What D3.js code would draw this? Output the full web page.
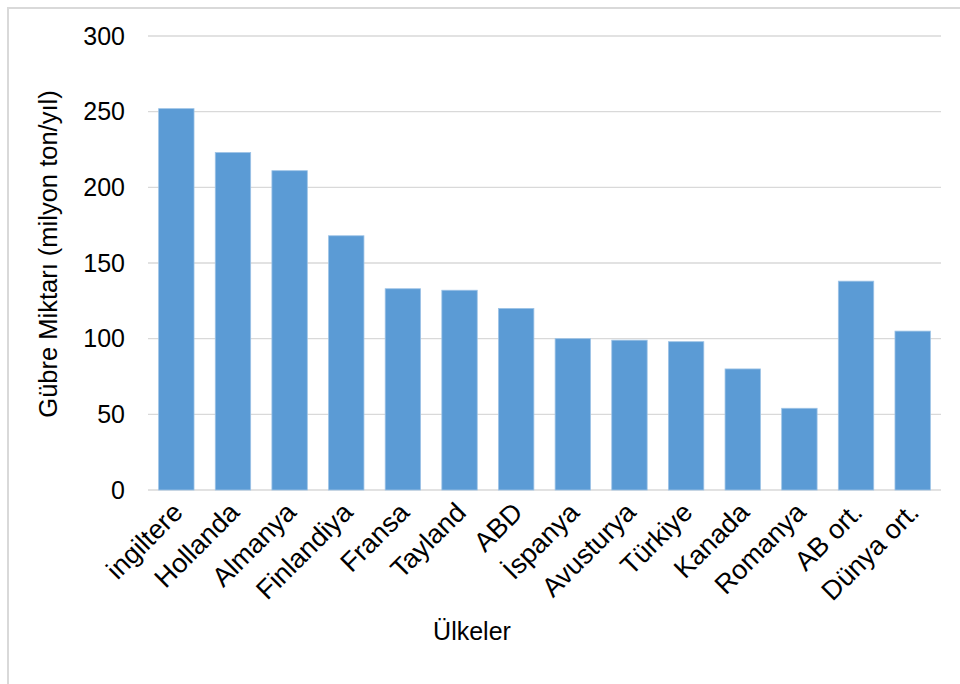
<!DOCTYPE html>
<html>
<head>
<meta charset="utf-8">
<script src="https://cdn.jsdelivr.net/npm/d3@7"></script>
<style>
  body { margin: 0; background: #fff; }
  text { font-family: "Liberation Sans", Arial, sans-serif; fill: #000; }
</style>
</head>
<body>
<script>
// data
var countries = ["ingiltere", "Hollanda", "Almanya", "Finlandiya", "Fransa", "Tayland", "ABD",
                 "İspanya", "Avusturya", "Türkiye", "Kanada", "Romanya", "AB ort.", "Dünya ort."];
var amounts = [252, 223, 211, 168, 133, 132, 120, 100, 99, 98, 80, 54, 138, 105];
var yTicks = [0, 50, 100, 150, 200, 250, 300];

var w = 960, h = 684;
var svg = d3.select("body").append("svg")
    .attr("width", w)
    .attr("height", h);

// outer chart frame (only top/left edges are visible)
svg.append("rect")
    .attr("x", 8).attr("y", 8)
    .attr("width", 980).attr("height", 700)
    .style("fill", "#fff")
    .style("stroke", "#d9d9d9")
    .style("stroke-width", 2);

var plotLeft = 148, plotRight = 941, plotTop = 36, plotBottom = 490;

var x = d3.scaleBand()
    .domain(countries)
    .range([plotLeft, plotRight])
    .paddingInner(0.375)
    .paddingOuter(0.1875);

var y = d3.scaleLinear()
    .domain([0, 300])
    .range([plotBottom, plotTop]);

// gridlines
svg.append("g").attr("class", "grid")
    .selectAll("line")
    .data(yTicks)
    .enter()
    .append("line")
    .attr("x1", plotLeft).attr("x2", plotRight)
    .attr("y1", function(d){ return y(d); })
    .attr("y2", function(d){ return y(d); })
    .style("stroke", "#d9d9d9")
    .style("stroke-width", 1.3);

// y axis labels
var yAxis = d3.axisLeft(y).tickValues(yTicks).tickSize(0).tickPadding(23);
svg.append("g")
    .attr("class", "axis")
    .attr("transform", "translate(" + plotLeft + ",0)")
    .call(yAxis)
    .call(function(g){ g.select(".domain").remove(); })
    .selectAll("text")
    .style("font-size", "25px")
    .style("font-family", "Liberation Sans, Arial, sans-serif")
    .attr("fill", "#000");

// bars
svg.selectAll(".bar")
    .data(amounts)
    .enter()
    .append("rect")
    .attr("class", "bar")
    .attr("x", function(d, i){ return x(countries[i]); })
    .attr("width", x.bandwidth())
    .attr("y", function(d){ return y(d); })
    .attr("height", function(d){ return y(0) - y(d); })
    .style("fill", "#5b9bd5")
    .style("stroke", "#9dc3e6")
    .style("stroke-width", 0.8);

// x labels, rotated
svg.selectAll(".xlabel")
    .data(countries)
    .enter()
    .append("text")
    .attr("class", "xlabel")
    .attr("text-anchor", "end")
    .attr("transform", function(d){
        var cx = x(d) + x.bandwidth() / 2 + 8;
        return "translate(" + cx + "," + 514 + ") rotate(-45)";
    })
    .style("font-size", "27px")
    .text(function(d){ return d; });

// axis titles
svg.append("text")
    .attr("text-anchor", "middle")
    .attr("x", 472)
    .attr("y", 640)
    .style("font-size", "25px")
    .text("Ülkeler");

svg.append("text")
    .attr("text-anchor", "middle")
    .attr("transform", "translate(57,254) rotate(-90)")
    .style("font-size", "25.5px")
    .text("Gübre Miktarı (milyon ton/yıl)");
</script>
</body>
</html>
